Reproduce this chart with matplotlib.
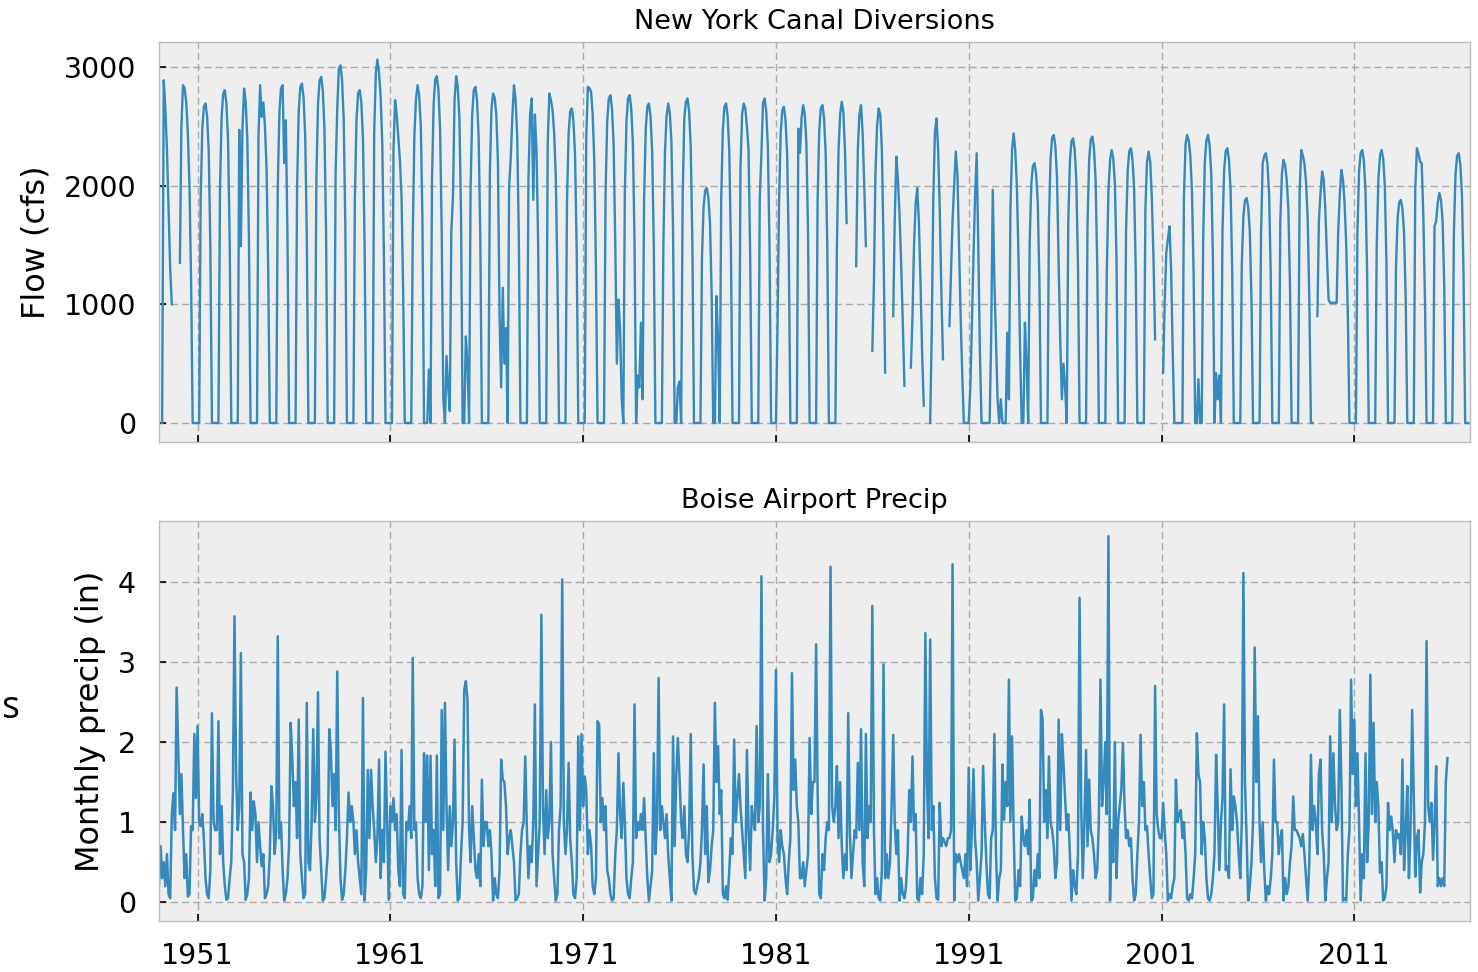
import numpy as np
import pandas as pd
import matplotlib
matplotlib.use("Agg")
import matplotlib.pyplot as plt

nan = np.nan

# New York Canal monthly diversions (cfs), one row per year, Jan..Dec, from 1949
canal_rows = [
    [nan, nan, 0, 2888, 2650, 2300, 1800, 1300, 1000, nan, nan, nan],        # 1949
    [nan, 1350, 2500, 2846, 2820, 2700, 2450, 2000, 1200, 0, 0, 0],          # 1950
    [0, 0, 1880, 2480, 2665, 2692, 2585, 2290, 1480, 0, 0, 0],               # 1951
    [0, 0, 1960, 2580, 2775, 2804, 2690, 2385, 1540, 0, 0, 0],               # 1952
    [0, 0, 2470, 1490, 2480, 2818, 2705, 2395, 1550, 0, 0, 0],               # 1953
    [0, 0, 2420, 2846, 2580, 2700, 2500, 2135, 1280, 0, 0, 0],               # 1954
    [0, 0, 1990, 2620, 2820, 2846, 2190, 2550, 1565, 0, 0, 0],               # 1955
    [0, 0, 2000, 2630, 2830, 2860, 2745, 2430, 1575, 0, 0, 0],               # 1956
    [0, 0, 2040, 2685, 2885, 2916, 2800, 2480, 1605, 0, 0, 0],               # 1957
    [0, 0, 2110, 2650, 2985, 3014, 2895, 2560, 1660, 0, 0, 0],               # 1958
    [0, 0, 1900, 2560, 2780, 2804, 2700, 2400, 1500, 0, 0, 0],               # 1959
    [0, 0, 2450, 2950, 3062, 2950, 2750, 2350, 1400, 0, 0, 0],               # 1960
    [0, 0, 2300, 2720, 2600, 2410, 2216, 1900, 1100, 0, 0, 0],               # 1961
    [0, 0, 1565, 2420, 2730, 2846, 2760, 2505, 1710, 0, 0, 0],               # 1962
    [450, 0, 2045, 2690, 2895, 2922, 2805, 2485, 1605, 200, 0, 565],         # 1963
    [300, 100, 1610, 1908, 2720, 2922, 2835, 2570, 1750, 0, 0, 730],         # 1964
    [510, 0, 1980, 2605, 2805, 2832, 2720, 2405, 1560, 0, 0, 0],             # 1965
    [0, 0, 2100, 2650, 2776, 2740, 2600, 2200, 900, 300, 1139, 500],         # 1966
    [800, 0, 1990, 2230, 2580, 2846, 2730, 2420, 1565, 0, 0, 0],             # 1967
    [0, 0, 2050, 2600, 2734, 1880, 2600, 2300, 1500, 0, 0, 0],               # 1968
    [0, 0, 2360, 2776, 2720, 2637, 2443, 2082, 1250, 0, 0, 0],               # 1969
    [0, 0, 1855, 2440, 2625, 2650, 2545, 2255, 1460, 0, 0, 0],               # 1970
    [0, 0, 2400, 2832, 2820, 2790, 2600, 2200, 1300, 0, 0, 0],               # 1971
    [0, 0, 1935, 2540, 2735, 2762, 2650, 2350, 1520, 500, 1040, 790],        # 1972
    [200, 0, 1935, 2540, 2735, 2762, 2650, 2350, 1520, 0, 400, 300],         # 1973
    [845, 200, 1885, 2475, 2665, 2692, 2585, 2290, 1480, 0, 0, 0],           # 1974
    [0, 0, 1480, 2290, 2585, 2692, 2610, 2370, 1615, 0, 0, 300],             # 1975
    [350, 0, 1915, 2566, 2705, 2734, 2625, 2325, 1505, 0, 0, 0],             # 1976
    [0, 0, 1385, 1820, 1960, 1979, 1900, 1680, 1090, 0, 0, 1070],            # 1977
    [700, 0, 1885, 2475, 2665, 2692, 2585, 2290, 1480, 0, 0, 0],             # 1978
    [0, 0, 2150, 2600, 2692, 2650, 2500, 2300, 1400, 0, 0, 0],               # 1979
    [0, 0, 1900, 2273, 2700, 2734, 2625, 2325, 1505, 0, 0, 0],               # 1980
    [0, 845, 1865, 2450, 2635, 2664, 2555, 2265, 1465, 0, 0, 0],             # 1981
    [0, 0, 2480, 2276, 2570, 2678, 2600, 2355, 1605, 0, 0, 0],               # 1982
    [0, 0, 1875, 2465, 2650, 2678, 2570, 2275, 1475, 0, 0, 0],               # 1983
    [0, 0, 1490, 2300, 2600, 2706, 2620, 2300, 1685, nan, nan, nan],         # 1984
    [nan, nan, 1321, 2300, 2600, 2678, 2450, 2000, 1490, nan, nan, nan],     # 1985
    [607, 1200, 2100, 2500, 2650, 2600, 2300, 1500, 425, nan, nan, nan],     # 1986
    [nan, 901, 1700, 2245, 2050, 1750, 1350, 850, 313, nan, nan, nan],       # 1987
    [467, 900, 1500, 1850, 1980, 1700, 1200, 600, 146, nan, nan, nan],       # 1988
    [0, 800, 1900, 2450, 2566, 2300, 1800, 1100, 537, nan, nan, nan],        # 1989
    [817, 1300, 1713, 2000, 2287, 2100, 1500, 900, 400, 0, 0, 0],            # 1990
    [0, 300, 800, 1400, 1900, 2273, 1500, 600, 0, 0, 0, 0],                  # 1991
    [0, 0, 705, 1965, 1200, 705, 200, 0, 200, 0, 0, 0],                      # 1992
    [761, 200, 1800, 2300, 2440, 2300, 2000, 1400, 600, 0, 0, 845],          # 1993
    [500, 0, 1530, 2015, 2165, 2189, 2100, 1860, 1205, 0, 0, 0],             # 1994
    [0, 0, 1700, 2235, 2405, 2427, 2330, 2065, 1335, 700, 200, 500],         # 1995
    [300, 0, 1680, 2205, 2375, 2398, 2300, 2040, 1320, 0, 0, 0],             # 1996
    [0, 0, 1690, 2220, 2390, 2413, 2315, 2050, 1325, 0, 0, 0],               # 1997
    [0, 0, 1265, 1955, 2210, 2300, 2230, 2025, 1380, 0, 0, 0],               # 1998
    [0, 0, 1620, 2130, 2290, 2315, 2220, 1970, 1275, 0, 0, 0],               # 1999
    [0, 0, 1800, 2200, 2287, 2200, 1900, 1400, 705, nan, nan, nan],          # 2000
    [nan, 425, 1000, 1433, 1550, 1657, 1300, 600, 0, 0, 0, 0],               # 2001
    [0, 0, 1900, 2350, 2427, 2380, 2250, 1950, 1250, 0, 0, 369],             # 2002
    [0, 0, 1550, 2200, 2380, 2427, 2340, 2100, 1400, 0, 420, 200],           # 2003
    [400, 0, 1620, 2130, 2290, 2315, 2220, 1970, 1275, 0, 0, 0],             # 2004
    [0, 0, 1325, 1745, 1875, 1895, 1820, 1610, 1040, 0, 0, 0],               # 2005
    [0, 0, 1590, 2189, 2250, 2273, 2180, 1930, 1250, 0, 0, 0],               # 2006
    [0, 0, 1700, 2100, 2217, 2170, 2050, 1800, 1150, 0, 0, 0],               # 2007
    [0, 0, 1955, 2300, 2255, 2185, 2025, 1725, 1035, 0, 0, nan],             # 2008
    [nan, 901, 1700, 1937, 2119, 2050, 1800, 1400, 1040, 1013, 1013, 1013],  # 2009
    [1013, 1013, 1600, 1925, 2133, 2050, 1850, 1500, 900, 0, 0, 0],          # 2010
    [0, 0, 1610, 2115, 2275, 2300, 2210, 1955, 1265, 0, 0, 0],               # 2011
    [0, 0, 1500, 2050, 2250, 2300, 2230, 2000, 1350, 0, 0, 0],               # 2012
    [0, 0, 1315, 1730, 1860, 1880, 1805, 1600, 1035, 0, 0, 0],               # 2013
    [0, 0, 1970, 2315, 2270, 2200, 2189, 1740, 1040, 0, 0, 0],               # 2014
    [0, 0, 1657, 1700, 1860, 1937, 1880, 1700, 1160, 0, 0, 0],               # 2015
    [0, 0, 1590, 2090, 2250, 2273, 2180, 1930, 1250, 0, 0, 0],               # 2016
]

# Boise Airport monthly precipitation (in), one row per year, Jan..Dec, from 1949
precip_rows = [
    [0.2, 0.7, 0.3, 0.5, 0.2, 0.6, 0.1, 0.05, 1.1, 1.36, 0.9, 2.68],     # 1949
    [1.9, 1.1, 1.6, 0.9, 0.3, 0.6, 0.07, 0.1, 0.95, 0.9, 2.1, 1.3],      # 1950
    [2.2, 1.0, 0.95, 1.1, 0.8, 0.3, 0.1, 0.05, 0.4, 2.36, 1.0, 0.9],     # 1951
    [0.9, 2.26, 0.6, 1.2, 0.5, 0.2, 0.03, 0.05, 0.3, 0.5, 1.4, 3.57],    # 1952
    [1.6, 0.9, 1.2, 3.11, 0.6, 0.5, 0.03, 0.1, 0.3, 1.37, 0.9, 1.26],    # 1953
    [1.1, 0.5, 1.0, 0.7, 0.45, 0.6, 0.05, 0.1, 0.2, 0.6, 1.45, 1.2],     # 1954
    [0.6, 0.9, 3.32, 0.8, 1.0, 0.4, 0.02, 0.1, 0.3, 0.7, 2.24, 1.8],     # 1955
    [1.2, 1.5, 0.8, 2.28, 0.6, 0.3, 0.05, 0.1, 2.49, 0.5, 0.4, 1.0],     # 1956
    [2.16, 1.0, 1.3, 2.62, 0.8, 0.4, 0.02, 0.05, 0.3, 0.6, 2.16, 1.9],   # 1957
    [1.2, 1.6, 0.9, 2.88, 1.1, 0.3, 0.03, 0.1, 0.4, 0.8, 1.37, 1.0],     # 1958
    [1.2, 1.0, 0.6, 0.9, 0.5, 0.3, 0.1, 2.55, 0.02, 0.4, 1.65, 0.8],     # 1959
    [1.65, 1.2, 0.9, 0.5, 0.8, 1.78, 0.3, 0.9, 0.5, 1.88, 1.0, 0.03],    # 1960
    [1.2, 1.0, 1.3, 0.9, 1.1, 0.4, 0.2, 1.9, 0.1, 0.05, 1.0, 0.9],       # 1961
    [1.2, 0.8, 3.05, 0.9, 1.0, 0.3, 0.1, 0.05, 0.2, 1.86, 1.0, 1.83],    # 1962
    [0.4, 1.83, 0.6, 0.9, 0.2, 1.83, 0.05, 0.1, 2.4, 0.9, 2.49, 1.2],    # 1963
    [0.4, 1.2, 0.7, 1.0, 2.03, 0.5, 0.02, 0.05, 0.6, 1.0, 2.65, 2.76],   # 1964
    [2.53, 0.9, 0.5, 1.2, 0.8, 0.4, 0.3, 0.6, 0.2, 1.53, 0.7, 1.0],      # 1965
    [1.0, 0.7, 0.9, 0.6, 0.02, 0.3, 0.1, 0.05, 0.4, 1.78, 1.53, 1.5],    # 1966
    [1.2, 0.6, 0.8, 0.9, 0.7, 0.5, 0.02, 0.05, 0.1, 0.6, 0.9, 1.0],      # 1967
    [1.82, 0.9, 0.3, 0.7, 0.5, 1.0, 2.47, 0.2, 0.6, 1.0, 3.59, 1.2],     # 1968
    [0.6, 1.4, 0.8, 1.0, 2.0, 0.6, 0.3, 0.02, 0.1, 0.9, 1.2, 4.03],      # 1969
    [1.0, 0.6, 0.9, 1.74, 0.8, 0.5, 0.1, 0.05, 0.3, 2.07, 0.9, 2.1],     # 1970
    [1.2, 1.57, 1.4, 0.6, 0.9, 0.7, 0.2, 0.1, 0.3, 2.26, 2.22, 1.0],     # 1971
    [1.3, 0.9, 1.2, 0.4, 0.3, 0.1, 0.02, 0.05, 0.6, 0.9, 1.86, 1.1],     # 1972
    [0.8, 1.49, 1.0, 0.3, 0.1, 0.05, 0.3, 0.5, 2.47, 0.8, 1.0, 0.9],     # 1973
    [1.1, 0.9, 1.3, 0.8, 0.3, 0.02, 0.2, 0.4, 1.86, 0.6, 1.0, 2.8],      # 1974
    [0.9, 1.2, 1.0, 0.8, 1.1, 0.6, 0.3, 0.02, 2.07, 0.7, 1.6, 2.05],     # 1975
    [1.57, 1.0, 0.8, 1.2, 0.6, 0.5, 0.9, 2.1, 0.6, 0.15, 0.1, 0.2],      # 1976
    [0.3, 0.5, 0.9, 1.72, 0.6, 1.2, 0.25, 0.4, 0.7, 0.9, 2.49, 1.5],     # 1977
    [1.95, 1.1, 1.4, 0.1, 0.05, 0.2, 0.03, 0.4, 0.8, 0.6, 2.03, 1.0],    # 1978
    [1.3, 1.6, 1.2, 0.9, 0.6, 0.3, 1.9, 0.9, 0.4, 1.2, 1.0, 0.9],        # 1979
    [2.2, 1.0, 1.2, 4.07, 0.9, 0.02, 0.3, 1.6, 0.5, 0.6, 0.9, 1.3],      # 1980
    [2.9, 0.8, 0.5, 0.9, 0.7, 0.6, 0.3, 0.1, 0.5, 0.8, 2.86, 1.4],       # 1981
    [1.78, 1.2, 1.0, 0.3, 0.3, 0.5, 0.2, 0.4, 0.6, 2.05, 1.1, 1.5],      # 1982
    [1.5, 3.22, 1.4, 0.1, 0.05, 0.6, 0.4, 0.8, 1.0, 0.9, 4.19, 1.2],     # 1983
    [1.0, 1.2, 1.7, 0.8, 1.5, 0.7, 0.3, 0.6, 0.4, 2.36, 0.9, 0.3],       # 1984
    [0.6, 0.9, 0.8, 1.74, 0.9, 2.16, 0.5, 0.2, 2.1, 0.8, 1.2, 1.0],      # 1985
    [3.7, 0.9, 0.1, 0.3, 0.05, 0.02, 0.4, 2.97, 0.3, 0.6, 0.3, 0.5],     # 1986
    [1.2, 2.09, 1.0, 0.6, 0.9, 0.02, 0.3, 0.1, 0.05, 0.2, 0.6, 1.4],     # 1987
    [1.0, 1.82, 0.9, 1.1, 0.05, 0.02, 0.3, 0.1, 0.6, 3.36, 1.5, 0.8],    # 1988
    [3.28, 0.9, 1.2, 0.3, 0.05, 0.03, 1.24, 0.7, 0.8, 0.75, 0.7, 0.8],   # 1989
    [0.8, 0.9, 4.22, 0.02, 0.6, 0.5, 0.6, 0.5, 0.4, 0.3, 0.6, 0.2],      # 1990
    [1.68, 0.4, 0.9, 1.66, 0.8, 0.5, 0.02, 0.3, 0.6, 1.7, 1.0, 0.5],     # 1991
    [0.1, 0.05, 0.8, 0.9, 2.1, 0.6, 0.02, 0.3, 0.4, 1.72, 1.03, 1.5],    # 1992
    [1.2, 2.78, 1.0, 2.07, 0.9, 0.02, 0.05, 0.4, 0.2, 1.07, 0.8, 0.7],   # 1993
    [0.9, 0.6, 1.28, 0.02, 0.05, 0.4, 0.2, 0.6, 0.3, 2.4, 2.28, 1.0],    # 1994
    [1.4, 0.8, 1.82, 1.0, 0.9, 0.7, 0.3, 0.5, 2.28, 0.9, 2.1, 1.74],     # 1995
    [1.3, 0.9, 1.1, 0.6, 0.02, 0.4, 0.2, 0.1, 0.6, 3.8, 1.2, 0.3],       # 1996
    [1.0, 1.9, 0.7, 1.53, 0.9, 0.8, 0.6, 0.3, 0.4, 1.0, 2.78, 1.2],      # 1997
    [1.5, 2.0, 1.1, 4.57, 0.02, 0.9, 0.5, 2.0, 0.3, 1.0, 1.2, 1.4],      # 1998
    [1.99, 1.2, 0.8, 0.9, 0.7, 0.8, 0.3, 0.02, 0.1, 0.6, 1.0, 2.09],     # 1999
    [1.2, 1.5, 0.9, 0.95, 0.6, 0.3, 0.05, 0.1, 2.7, 1.1, 0.9, 0.8],      # 2000
    [0.8, 1.24, 0.9, 0.6, 0.02, 0.1, 0.05, 0.2, 0.3, 1.53, 1.0, 1.1],    # 2001
    [1.15, 0.8, 1.0, 0.6, 0.05, 0.02, 0.1, 0.05, 0.3, 0.6, 2.11, 1.6],   # 2002
    [1.5, 0.6, 1.0, 0.8, 0.3, 0.05, 0.02, 0.1, 0.3, 0.6, 1.84, 1.2],     # 2003
    [0.4, 1.0, 1.3, 2.47, 0.4, 0.45, 0.3, 1.66, 0.9, 1.32, 1.2, 1.0],    # 2004
    [0.6, 0.3, 1.0, 4.11, 1.5, 0.8, 0.02, 0.2, 0.5, 1.0, 3.18, 1.5],     # 2005
    [2.32, 1.0, 0.5, 1.0, 0.4, 0.02, 0.2, 0.1, 0.3, 0.6, 1.78, 1.0],     # 2006
    [1.0, 0.6, 0.8, 0.9, 0.02, 0.3, 0.1, 0.2, 0.5, 0.7, 1.32, 0.9],      # 2007
    [0.9, 0.85, 0.8, 0.7, 0.85, 0.6, 0.3, 0.02, 0.5, 1.84, 0.9, 1.2],    # 2008
    [1.0, 0.6, 1.6, 1.78, 0.9, 0.6, 0.02, 0.3, 0.5, 2.07, 1.0, 1.86],    # 2009
    [1.2, 0.9, 1.0, 2.4, 1.5, 0.02, 0.05, 0.02, 0.6, 0.9, 2.78, 1.6],    # 2010
    [2.28, 1.2, 1.86, 1.0, 0.02, 0.6, 0.3, 1.86, 0.5, 1.0, 2.84, 1.1],   # 2011
    [2.24, 1.0, 1.5, 1.2, 0.37, 0.5, 0.02, 0.05, 0.2, 1.24, 0.9, 1.07],  # 2012
    [0.87, 0.5, 0.9, 0.8, 0.85, 0.6, 1.78, 0.4, 0.9, 1.45, 0.3, 0.9],    # 2013
    [2.4, 1.3, 0.32, 0.8, 0.9, 0.12, 0.5, 0.6, 1.0, 3.26, 1.2, 1.0],     # 2014
    [1.24, 0.53, 1.0, 1.7, 0.2, 0.3, 0.2, 0.3, 0.2, 1.5, 1.8],           # 2015 (Jan..Nov)
]

series_start = "1949-01-01"
axis_start, axis_end = "1949-01-01", "2017-01-01"
tick_years = [1951, 1961, 1971, 1981, 1991, 2001, 2011]
flow_ticks = [0, 1000, 2000, 3000]
precip_ticks = [0, 1, 2, 3, 4]

canal = np.concatenate([np.asarray(r, dtype=float) for r in canal_rows])
precip = np.concatenate([np.asarray(r, dtype=float) for r in precip_rows])
canal_dates = pd.date_range(series_start, periods=len(canal), freq="MS")
precip_dates = pd.date_range(series_start, periods=len(precip), freq="MS")

LINE = "#348ABD"
FACE = "#eeeeee"
GRID = "#a9a9a9"
EDGE = "#bcbcbc"

W, H = 1478, 972
fig = plt.figure(figsize=(W / 100, H / 100), dpi=100)
fig.patch.set_facecolor("white")

ax1 = fig.add_axes([159 / W, 1 - 442 / H, 1311 / W, 400 / H])
ax2 = fig.add_axes([159 / W, 1 - 921 / H, 1311 / W, 400 / H], sharex=ax1)

ax1.plot(canal_dates, canal, color=LINE, lw=1.7)
ax2.plot(precip_dates, precip, color=LINE, lw=1.8)

for ax in (ax1, ax2):
    ax.set_facecolor(FACE)
    for sp in ax.spines.values():
        sp.set_color(EDGE)
        sp.set_linewidth(1.0)
    ax.grid(True, color=GRID, linestyle=(0, (5.2, 2.9)), linewidth=1.0)
    ax.set_axisbelow(True)
    ax.tick_params(direction="in", length=5, width=1.2, color="black",
                   labelsize=20.5, pad=16.5, top=False, right=False)

ax1.set_xlim(pd.Timestamp(axis_start), pd.Timestamp(axis_end))
ax2.set_xticks([pd.Timestamp(f"{y}-01-01") for y in tick_years])
ax2.set_xticklabels([str(y) for y in tick_years])
ax2.tick_params(axis="x", pad=15)
ax1.tick_params(axis="x", labelbottom=False)

ax1.set_ylim(-160, 3210)
ax1.set_yticks(flow_ticks)
ax2.set_ylim(-0.235, 4.76)
ax2.set_yticks(precip_ticks)

ax1.set_title("New York Canal Diversions", fontsize=19.5, pad=9.5)
ax2.set_title("Boise Airport Precip", fontsize=19.5, pad=9.5)
ax1.set_ylabel("Flow (cfs)", fontsize=23, labelpad=8.5)
ax2.set_ylabel("Monthly precip (in)", fontsize=23, labelpad=8.5)

fig.text(1 / W, 1 - 718 / H, "s", fontsize=27, family=["Open Sans", "DejaVu Sans"],
         ha="left", va="baseline")

fig.savefig("out.png", dpi=100)
